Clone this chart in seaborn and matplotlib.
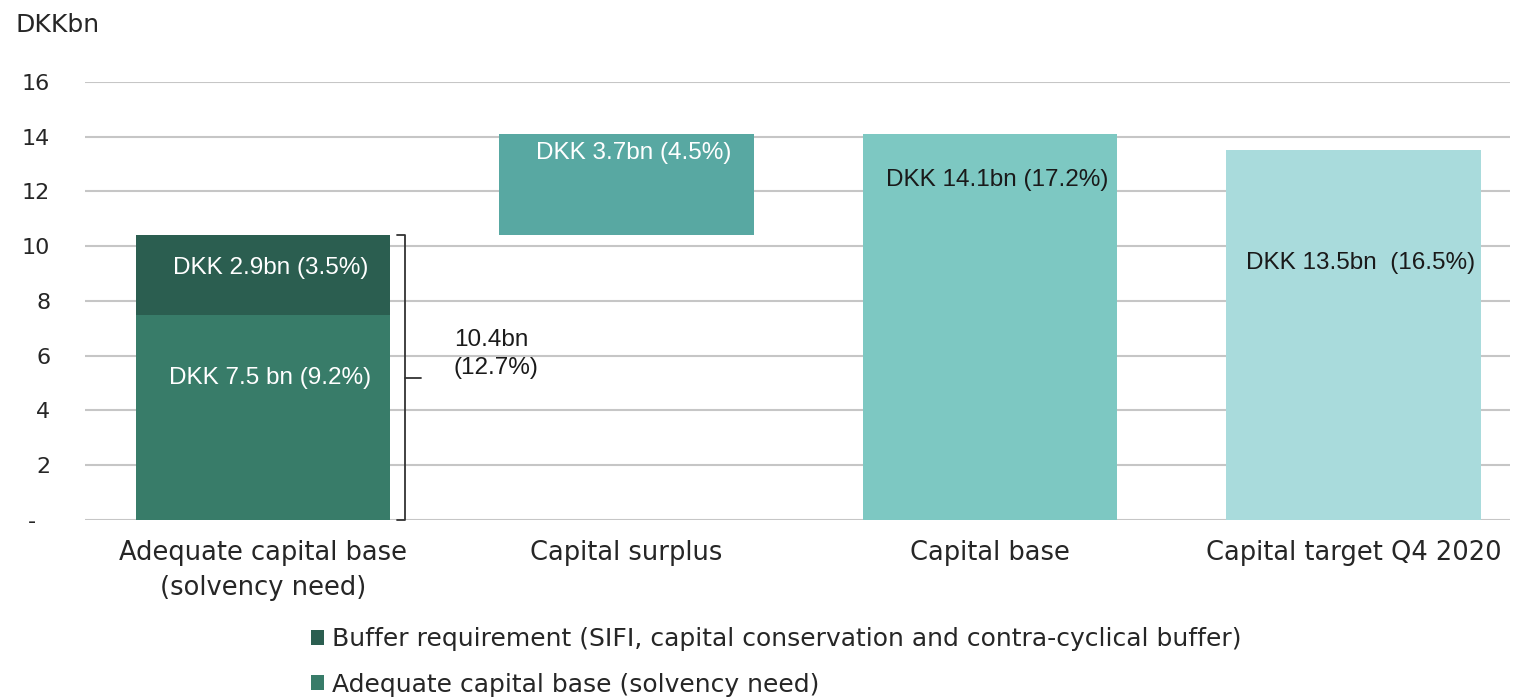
import matplotlib
matplotlib.use("Agg")
import matplotlib.pyplot as plt
from matplotlib.patches import Patch
import seaborn as sns

categories = ["Adequate capital base\n(solvency need)", "Capital surplus",
              "Capital base", "Capital target Q4 2020"]

# segment values in DKK bn
solvency_need = 7.5
buffer_req = 2.9
capital_surplus = 3.7
capital_base = 14.1
capital_target = 13.5
total_requirement = 10.4

seg_labels = ["DKK 7.5 bn (9.2%)", "DKK 2.9bn (3.5%)", "DKK 3.7bn (4.5%)",
              "DKK 14.1bn (17.2%)", "DKK 13.5bn  (16.5%)"]
bracket_label = "10.4bn\n(12.7%)"
legend_labels = ["Buffer requirement (SIFI, capital conservation and contra-cyclical buffer)",
                 "Adequate capital base (solvency need)"]
y_ticks = [0, 2, 4, 6, 8, 10, 12, 14, 16]
y_ticklabels = ["-  ", "2", "4", "6", "8", "10", "12", "14", "16"]

c_need = "#387c69"
c_buffer = "#2b5e50"
c_surplus = "#58a8a2"
c_base = "#7dc8c2"
c_target = "#a9dbdc"

sns.set_style("white")
plt.rcParams["font.family"] = ["DejaVu Sans"]

fig = plt.figure(figsize=(15.16, 6.99), dpi=100)
ax = fig.add_axes([0.056, 0.256, 0.94, 0.627])

bar_w = 0.70

# (category, value, bottom, colour, label, label y, label colour)
segments = [
    (categories[0], solvency_need, 0.0, c_need, seg_labels[0], 5.2, "white"),
    (categories[0], buffer_req, solvency_need, c_buffer, seg_labels[1], 9.2, "white"),
    (categories[1], capital_surplus, total_requirement, c_surplus, seg_labels[2], 13.4, "white"),
    (categories[2], capital_base, 0.0, c_base, seg_labels[3], 12.4, "#1a1a1a"),
    (categories[3], capital_target, 0.0, c_target, seg_labels[4], 9.4, "#1a1a1a"),
]

for cat, val, bot, col, lab, ly, lc in segments:
    sns.barplot(x=[cat], y=[val], order=categories, color=col, width=bar_w,
                bottom=bot, saturation=1, ax=ax, zorder=3,
                edgecolor="none", linewidth=0)

for i, (cat, val, bot, col, lab, ly, lc) in enumerate(segments):
    xi = categories.index(cat)
    ax.text(xi + 0.02, ly, lab, ha="center", va="center", color=lc,
            fontsize=17.5, family="Liberation Sans", zorder=5)

ax.set_ylim(0, 16)
ax.set_xlim(-0.49, 3.43)
ax.set_yticks(y_ticks)
ax.set_yticklabels(y_ticklabels)
ax.yaxis.grid(True, color="#c6c6c6", lw=1.5)
ax.set_axisbelow(True)
for s in ax.spines.values():
    s.set_visible(False)
ax.tick_params(axis="y", length=0, pad=25, labelsize=16, labelcolor="#262626")
ax.tick_params(axis="x", length=0, pad=14, labelsize=18.5, labelcolor="#262626")
for t in ax.get_xticklabels():
    t.set_linespacing(1.45)
ax.set_xlabel("")
ax.set_ylabel("")

# bracket spanning the total requirement
bx = 0.39
hook = 0.022
ax.plot([bx - hook, bx, bx, bx - hook], [total_requirement, total_requirement, 0.0, 0.0],
        color="#333333", lw=1.3, clip_on=False, zorder=4)
ax.plot([bx, bx + 0.045], [total_requirement / 2, total_requirement / 2],
        color="#333333", lw=1.3, clip_on=False, zorder=4)
ax.text(0.525, total_requirement / 2 + 0.85, bracket_label, ha="left", va="center",
        fontsize=17.5, family="Liberation Sans", color="#1a1a1a", linespacing=1.35)

fig.text(0.01, 0.964, "DKKbn", ha="left", va="center", fontsize=18, color="#262626")

handles = [Patch(facecolor=c_buffer, edgecolor="none"),
           Patch(facecolor=c_need, edgecolor="none")]
fig.legend(handles, legend_labels, loc="center left", bbox_to_anchor=(0.19, 0.053),
           frameon=False, fontsize=18, handlelength=0.55, handleheight=0.55,
           handletextpad=0.3, labelspacing=0.85, labelcolor="#262626")

fig.savefig("out.png", dpi=100)
